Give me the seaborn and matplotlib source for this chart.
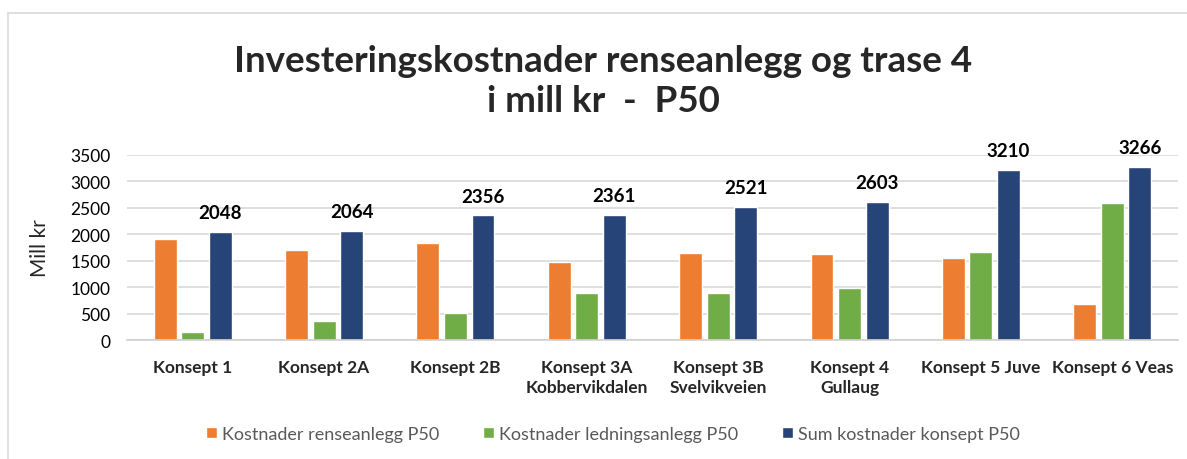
import matplotlib
matplotlib.use("Agg")
import matplotlib.pyplot as plt
import seaborn as sns
import pandas as pd
from matplotlib.patches import Rectangle

categories = ["Konsept 1", "Konsept 2A", "Konsept 2B", "Konsept 3A\nKobbervikdalen",
              "Konsept 3B\nSvelvikveien", "Konsept 4\nGullaug", "Konsept 5 Juve", "Konsept 6 Veas"]
series_names = ["Kostnader renseanlegg P50", "Kostnader ledningsanlegg P50", "Sum kostnader konsept P50"]
renseanlegg = [1905, 1703, 1843, 1480, 1640, 1620, 1545, 680]
ledningsanlegg = [143, 361, 513, 881, 881, 983, 1665, 2586]
sum_konsept = [2048, 2064, 2356, 2361, 2521, 2603, 3210, 3266]
colors = ["#ED7D31", "#70AD47", "#264478"]

rows = []
for i, c in enumerate(categories):
    rows.append((c, series_names[0], renseanlegg[i]))
    rows.append((c, series_names[1], ledningsanlegg[i]))
    rows.append((c, series_names[2], sum_konsept[i]))
df = pd.DataFrame(rows, columns=["Konsept", "Serie", "Verdi"])

sns.set_theme(style="white")
plt.rcParams["font.family"] = ["Lato", "DejaVu Sans"]

fig = plt.figure(figsize=(11.87, 4.60), dpi=100)
ax = fig.add_axes([127/1187, 1-341/460, (1178-127)/1187, (341-156)/460])

sns.barplot(data=df, x="Konsept", y="Verdi", hue="Serie", palette=colors,
            width=0.63, gap=0.17, ax=ax, legend=True, saturation=1)

ax.set_ylim(0, 3500)
ax.set_yticks(range(0, 3501, 500))
ax.yaxis.grid(True, color="#d9d9d9", linewidth=1.2)
ax.set_axisbelow(True)
for s in ["top", "right", "left"]:
    ax.spines[s].set_visible(False)
ax.spines["bottom"].set_color("#d0d0d0")
ax.spines["bottom"].set_linewidth(1.2)
ax.tick_params(axis="y", labelsize=12.5, colors="#000000", length=0, pad=12)
ax.tick_params(axis="x", labelsize=12.5, length=0, pad=14)
for lbl in ax.get_xticklabels():
    lbl.set_fontweight("bold")
    lbl.set_linespacing(1.25)
ax.set_xlabel("")
ax.set_ylabel("Mill kr", fontsize=15)
ax.yaxis.set_label_coords((50-127)/1051, 0.5)

# data labels on sum bars
sum_container = ax.containers[2]
for bar, v in zip(sum_container, sum_konsept):
    ax.annotate(f"{v}", (bar.get_x() + bar.get_width()/2, bar.get_height()),
                xytext=(0, 14), textcoords="offset points", ha="center", va="center",
                fontsize=13.5, fontweight="bold", color="#000000")

leg = ax.legend(loc="center", bbox_to_anchor=(613/1187, 1-435/460), bbox_transform=fig.transFigure,
                ncol=3, frameon=False, fontsize=13, handlelength=0.6, handleheight=0.6,
                handletextpad=0.3, columnspacing=2.4)
for t in leg.get_texts():
    t.set_color("#595959")

fig.text(0.508, 1-62/460, "Investeringskostnader renseanlegg og trase 4", ha="center", va="center",
         fontsize=26.5, fontweight="bold")
fig.text(0.508, 1-102/460, "i mill kr  -  P50", ha="center", va="center",
         fontsize=26.5, fontweight="bold")

fig.patches.append(Rectangle((8/1187, -0.05), 1.2, 1-14/460+0.05, transform=fig.transFigure,
                             fill=False, edgecolor="#d9d9d9", linewidth=1.2))

fig.savefig("out.png", dpi=100)
